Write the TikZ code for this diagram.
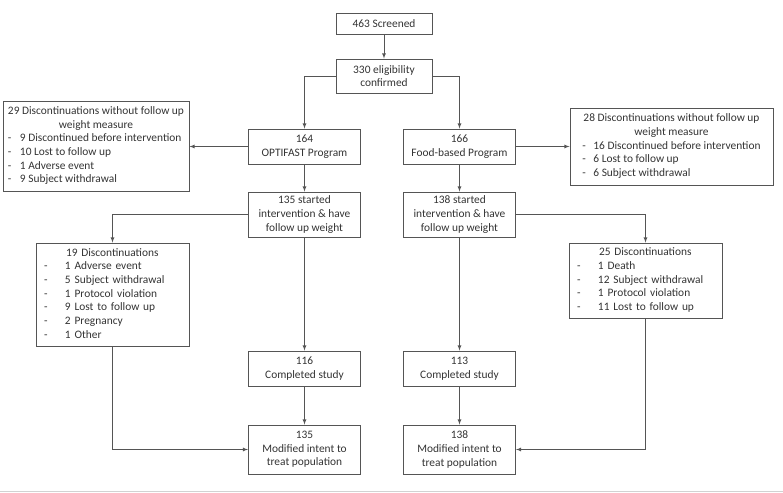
\documentclass[tikz,border=0pt]{standalone}
\usepackage{fontspec}
\setmainfont{Carlito}
\usetikzlibrary{arrows}
\definecolor{boxline}{HTML}{555555}
\definecolor{txt}{HTML}{333333}
\newcommand{\dashitem}[2]{\makebox[#1][l]{-}#2}

\begin{document}
\begin{tikzpicture}[x=1pt,y=-1pt,
  box/.style={draw=boxline,line width=0.9pt,text=txt,align=center,inner sep=0pt,
    font=\fontsize{11.4}{13.7}\selectfont},
  listbox/.style={box,align=left,inner xsep=8pt,text width=137pt},
  flow/.style={draw=boxline,line width=0.8pt,-latex}]
  \useasboundingbox (0,0) rectangle (783,492);
  \draw[gray!35,line width=1pt] (0,491) -- (783,491);

  \node[box,minimum width=96,minimum height=21] (screen) at (384,23.5) {463 Screened};
  \node[box,minimum width=96,minimum height=34] (elig) at (384,76) {330 eligibility\\confirmed};

  \node[box,minimum width=112,minimum height=35] (opti) at (304.5,146.5) {164\\OPTIFAST Program};
  \node[box,minimum width=112,minimum height=35] (food) at (459.5,146.5) {166\\Food-based Program};

  \node[box,minimum width=186,minimum height=90] (optiout) at (96,146) {%
    \begin{tabular}{@{}l@{}}
      \multicolumn{1}{@{}c@{}}{29 Discontinuations without follow up}\\
      \multicolumn{1}{@{}c@{}}{weight measure}\\
      \dashitem{12pt}{9 Discontinued before intervention}\\
      \dashitem{12pt}{10 Lost to follow up}\\
      \dashitem{12pt}{1 Adverse event}\\
      \dashitem{12pt}{9 Subject withdrawal}
    \end{tabular}};
  \node[box,minimum width=203,minimum height=77] (foodout) at (671.5,146.5) {%
    \begin{tabular}{@{}l@{}}
      \multicolumn{1}{@{}c@{}}{28 Discontinuations without follow up}\\
      \multicolumn{1}{@{}c@{}}{weight measure}\\
      \dashitem{11pt}{16 Discontinued before intervention}\\
      \dashitem{11pt}{6 Lost to follow up}\\
      \dashitem{11pt}{6 Subject withdrawal}
    \end{tabular}};

  \node[box,minimum width=112,minimum height=45] (optistart) at (304.5,214.5) {135 started\\intervention \& have\\follow up weight};
  \node[box,minimum width=112,minimum height=45] (foodstart) at (459.5,214.5) {138 started\\intervention \& have\\follow up weight};

  \node[listbox,minimum height=103] (optidisc) at (112.5,294.5) {%
    \begin{tabular}{@{}l@{}}
      \hspace*{22pt}19 Discontinuations\\
      \dashitem{21pt}{1 Adverse event}\\
      \dashitem{21pt}{5 Subject withdrawal}\\
      \dashitem{21pt}{1 Protocol violation}\\
      \dashitem{21pt}{9 Lost to follow up}\\
      \dashitem{21pt}{2 Pregnancy}\\
      \dashitem{21pt}{1 Other}
    \end{tabular}};
  \node[listbox,minimum height=75] (fooddisc) at (645.5,280.5) {%
    \begin{tabular}{@{}l@{}}
      \hspace*{22pt}25 Discontinuations\\
      \dashitem{21pt}{1 Death}\\
      \dashitem{21pt}{12 Subject withdrawal}\\
      \dashitem{21pt}{1 Protocol violation}\\
      \dashitem{21pt}{11 Lost to follow up}
    \end{tabular}};

  \node[box,minimum width=112,minimum height=35] (opticomp) at (304.5,368.5) {116\\Completed study};
  \node[box,minimum width=112,minimum height=35] (foodcomp) at (459.5,368.5) {113\\Completed study};

  \node[box,minimum width=112,minimum height=49] (optimitt) at (304.5,449.5) {135\\Modified intent to\\treat population};
  \node[box,minimum width=112,minimum height=49] (foodmitt) at (459.5,449.5) {138\\Modified intent to\\treat population};

  % connectors
  \draw[flow] (screen) -- (elig);
  \draw[flow] (elig.west) -| (opti);
  \draw[flow] (elig.east) -| (food);
  \draw[flow] (opti.west) -- (optiout.east |- opti.west);
  \draw[flow] (food.east) -- (foodout.west |- food.east);
  \draw[flow] (opti) -- (optistart);
  \draw[flow] (food) -- (foodstart);
  \draw[flow] (optistart.west) -| (optidisc);
  \draw[flow] (foodstart.east) -| (fooddisc);
  \draw[flow] (optistart) -- (opticomp);
  \draw[flow] (foodstart) -- (foodcomp);
  \draw[flow] (opticomp) -- (optimitt);
  \draw[flow] (foodcomp) -- (foodmitt);
  \draw[flow] (optidisc.south) |- (optimitt.west);
  \draw[flow] (fooddisc.south) |- (foodmitt.east);
\end{tikzpicture}
\end{document}
